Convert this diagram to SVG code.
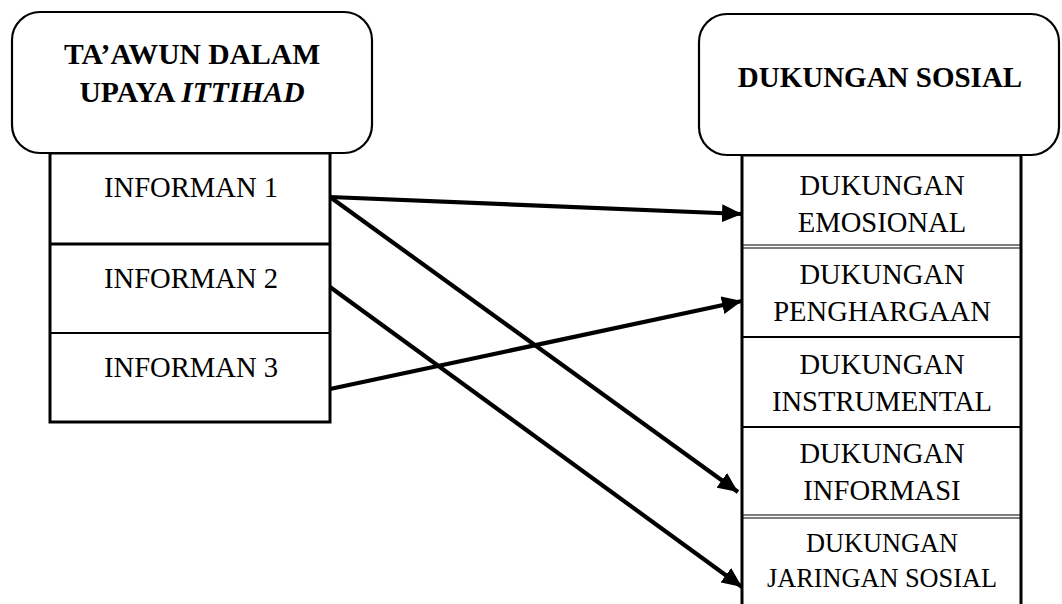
<svg xmlns="http://www.w3.org/2000/svg" width="1062" height="604" viewBox="0 0 1062 604">
  <style>
    .head { fill: #fff; stroke: #000; stroke-width: 2.2; }
    .cell { fill: #fff; stroke: #000; stroke-width: 3; }
    .rule { stroke: #000; stroke-width: 2.2; }
    .thin { stroke: #000; stroke-width: 1.2; }
    .t { font-family: "Liberation Serif", "Times New Roman", serif; font-size: 28.6px; fill: #000; text-anchor: middle; }
    .b { font-weight: bold; font-size: 29px; }
    .wide { font-size: 29.6px; }
    .sm { font-size: 26.3px; }
    .arrow { stroke: #000; stroke-width: 4.2; fill: none; marker-end: url(#head); }
  </style>
  <defs>
    <marker id="head" markerUnits="userSpaceOnUse" markerWidth="22" markerHeight="18" refX="20" refY="9" orient="auto">
      <path d="M0,0 L20,9 L0,18 Z" fill="#000"/>
    </marker>
  </defs>
  <rect width="1062" height="604" fill="#fff"/>

  <!-- left column: heading and informants -->
  <g id="informan-table">
    <rect class="cell" x="50" y="153" width="280" height="269"/>
    <line class="cell" x1="50" y1="244" x2="330" y2="244"/>
    <line class="rule" x1="50" y1="333" x2="330" y2="333"/>
  </g>
  <g id="taawun">
    <rect class="head" x="12" y="12" width="360" height="141" rx="28" ry="28"/>
    <text class="t b wide" x="192" y="64">TA’AWUN DALAM</text>
    <text class="t b wide" x="192" y="102">UPAYA <tspan font-style="italic">ITTIHAD</tspan></text>
  </g>
  <g id="informan-1"><text class="t" x="191" y="197">INFORMAN 1</text></g>
  <g id="informan-2"><text class="t" x="191" y="288">INFORMAN 2</text></g>
  <g id="informan-3"><text class="t" x="191" y="377">INFORMAN 3</text></g>

  <!-- right column: social support types -->
  <g id="dukungan-table">
    <rect class="cell" x="742" y="155" width="279" height="460"/>
    <line class="thin" x1="742" y1="245" x2="1021" y2="245"/>
    <line class="thin" x1="742" y1="248" x2="1021" y2="248"/>
    <line class="rule" x1="742" y1="337" x2="1021" y2="337"/>
    <line class="rule" x1="742" y1="427" x2="1021" y2="427"/>
    <line class="thin" x1="742" y1="515" x2="1021" y2="515"/>
    <line class="thin" x1="742" y1="518" x2="1021" y2="518"/>
  </g>
  <g id="dukungan-sosial">
    <rect class="head" x="699" y="14" width="360" height="141" rx="28" ry="28"/>
    <text class="t b" x="880" y="87">DUKUNGAN SOSIAL</text>
  </g>
  <g id="emosional">
    <text class="t" x="882" y="195">DUKUNGAN</text>
    <text class="t" x="882" y="232">EMOSIONAL</text>
  </g>
  <g id="penghargaan">
    <text class="t" x="882" y="284">DUKUNGAN</text>
    <text class="t" x="882" y="321">PENGHARGAAN</text>
  </g>
  <g id="instrumental">
    <text class="t" x="882" y="374">DUKUNGAN</text>
    <text class="t" x="882" y="411">INSTRUMENTAL</text>
  </g>
  <g id="informasi">
    <text class="t" x="882" y="463">DUKUNGAN</text>
    <text class="t" x="882" y="500">INFORMASI</text>
  </g>
  <g id="jaringan-sosial">
    <text class="t sm" x="882" y="552">DUKUNGAN</text>
    <text class="t sm" x="882" y="587">JARINGAN SOSIAL</text>
  </g>

  <!-- connectors -->
  <g id="connectors">
    <line class="arrow" x1="330" y1="197" x2="742" y2="214"/>
    <line class="arrow" x1="330" y1="197" x2="738" y2="492"/>
    <line class="arrow" x1="330" y1="287" x2="742" y2="587"/>
    <line class="arrow" x1="330" y1="389" x2="742" y2="301"/>
  </g>
</svg>
